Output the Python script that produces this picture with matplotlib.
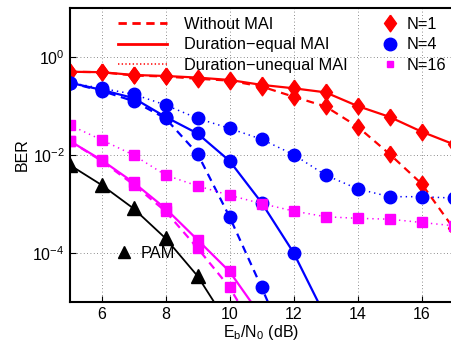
import numpy as np
import matplotlib
matplotlib.use('Agg')
import matplotlib.pyplot as plt
from matplotlib.lines import Line2D

plt.rcParams['font.family'] = ['Liberation Sans', 'DejaVu Sans']
plt.rcParams['mathtext.fontset'] = 'custom'
plt.rcParams['mathtext.rm'] = 'Liberation Sans'
plt.rcParams['mathtext.it'] = 'Liberation Sans:italic'

snr = [5, 6, 7, 8, 9, 10, 11, 12, 13, 14, 15, 16, 17]

# N=1
n1_without = [0.50, 0.49, 0.42, 0.40, 0.36, 0.33, 0.25, 0.155, 0.098, 0.038, 0.0105, 0.0026, 3.2e-4]
n1_equal = [0.50, 0.49, 0.43, 0.41, 0.38, 0.34, 0.27, 0.23, 0.19, 0.10, 0.060, 0.030, 0.0166]
# N=4
n4_without = [0.30, 0.204, 0.126, 0.056, 0.0107, 5.5e-4, 2.0e-5, 6.3e-7]
n4_equal = [0.30, 0.214, 0.145, 0.060, 0.0275, 0.0076, 0.00107, 1.02e-4, 5e-6]
n4_unequal = [0.30, 0.23, 0.174, 0.105, 0.056, 0.035, 0.021, 0.0102, 0.0039, 0.00204, 0.00141, 0.00141, 0.00132]
# N=16
n16_without = [0.0195, 0.0076, 0.0025, 7.1e-4, 1.26e-4, 2.0e-5, 1.6e-6]
n16_equal = [0.0195, 0.0079, 0.00275, 8.1e-4, 1.86e-4, 4.2e-5, 5e-6]
n16_unequal = [0.041, 0.0204, 0.010, 0.0039, 0.00234, 0.00151, 0.00102, 7.2e-4, 5.5e-4, 5.1e-4, 4.9e-4, 4.2e-4, 3.6e-4]
# PAM
pam = [0.0063, 0.00245, 8.1e-4, 2.0e-4, 3.4e-5, 3.2e-6]

diamond = [(0, 1), (0.72, 0), (0, -1), (-0.72, 0), (0, 1)]

fig = plt.figure(figsize=(4.51, 3.5), dpi=100)
ax = fig.add_axes([69.5 / 451, 48 / 350, 384 / 451, 294 / 350])

lw = 1.6

def draw(y, color, ls, marker, ms):
    x = snr[:len(y)]
    line, = ax.plot(x, y, color=color, lw=lw, marker=marker, ms=ms,
                    markerfacecolor=color, markeredgecolor=color)
    if ls == 'dash':
        line.set_dashes((3.5, 2.5))
    elif ls == 'dot':
        line.set_linewidth(1.1)
        line.set_dashes((0.9, 2.6))
    return line

draw(n1_without, 'red', 'dash', diamond, 12)
draw(n1_equal, 'red', 'solid', diamond, 12)
draw(n4_without, 'blue', 'dash', 'o', 9)
draw(n4_equal, 'blue', 'solid', 'o', 9)
draw(n4_unequal, 'blue', 'dot', 'o', 9)
draw(n16_without, 'magenta', 'dash', 's', 7.5)
draw(n16_equal, 'magenta', 'solid', 's', 7.5)
draw(n16_unequal, 'magenta', 'dot', 's', 7.5)
ax.plot(snr[:len(pam)], pam, color='black', lw=1.3, marker='^', ms=9.5)

ax.set_yscale('log')
ax.set_xlim(5, 17)
ax.set_ylim(1e-5, 10)
ax.set_xticks([6, 8, 10, 12, 14, 16])
ax.set_yticks([1e-4, 1e-2, 1e0])
ax.yaxis.set_minor_locator(matplotlib.ticker.NullLocator())
ax.tick_params(direction='in', labelsize=11.5, length=4, width=0.8)
ax.grid(True, linestyle=(0, (1, 3)), color='black', lw=0.6, alpha=0.6)
for s in ax.spines.values():
    s.set_linewidth(1.5)
ax.set_ylabel('BER', fontsize=11.5, labelpad=2)
ax.set_xlabel(r'E$_\mathrm{b}$/N$_\mathrm{0}$ (dB)', fontsize=11.5, labelpad=1)

# line style legend
h1 = [Line2D([], [], color='red', lw=2, dashes=(3, 2)),
      Line2D([], [], color='red', lw=2),
      Line2D([], [], color='red', lw=1.1, dashes=(0.9, 1.5))]
leg1 = ax.legend(h1, ['Without MAI', 'Duration\u2212equal MAI', 'Duration\u2212unequal MAI'],
                 loc='upper left', bbox_to_anchor=(110 / 451, 1 - 9 / 350),
                 bbox_transform=fig.transFigure, frameon=False, fontsize=11.8,
                 handlelength=3.0, handletextpad=1.0, labelspacing=0.32, borderpad=0)
ax.add_artist(leg1)

h2 = [Line2D([], [], ls='none', color='red', marker=diamond, ms=12),
      Line2D([], [], ls='none', color='blue', marker='o', ms=9),
      Line2D([], [], ls='none', color='magenta', marker='s', ms=5)]
leg2 = ax.legend(h2, ['N=1', 'N=4', 'N=16'], loc='upper left',
                 bbox_to_anchor=(374 / 451, 1 - 9 / 350),
                 bbox_transform=fig.transFigure, frameon=False, fontsize=11.8,
                 handlelength=1.0, handletextpad=0.5, labelspacing=0.32, borderpad=0)
ax.add_artist(leg2)

h3 = [Line2D([], [], ls='none', color='black', marker='^', ms=8.5)]
ax.legend(h3, ['PAM'], loc='center left', bbox_to_anchor=(108 / 451, 1 - 253 / 350),
          bbox_transform=fig.transFigure, frameon=False, fontsize=11.8,
          handlelength=1.0, handletextpad=0.5, borderpad=0)

fig.savefig('out.png', dpi=100)
